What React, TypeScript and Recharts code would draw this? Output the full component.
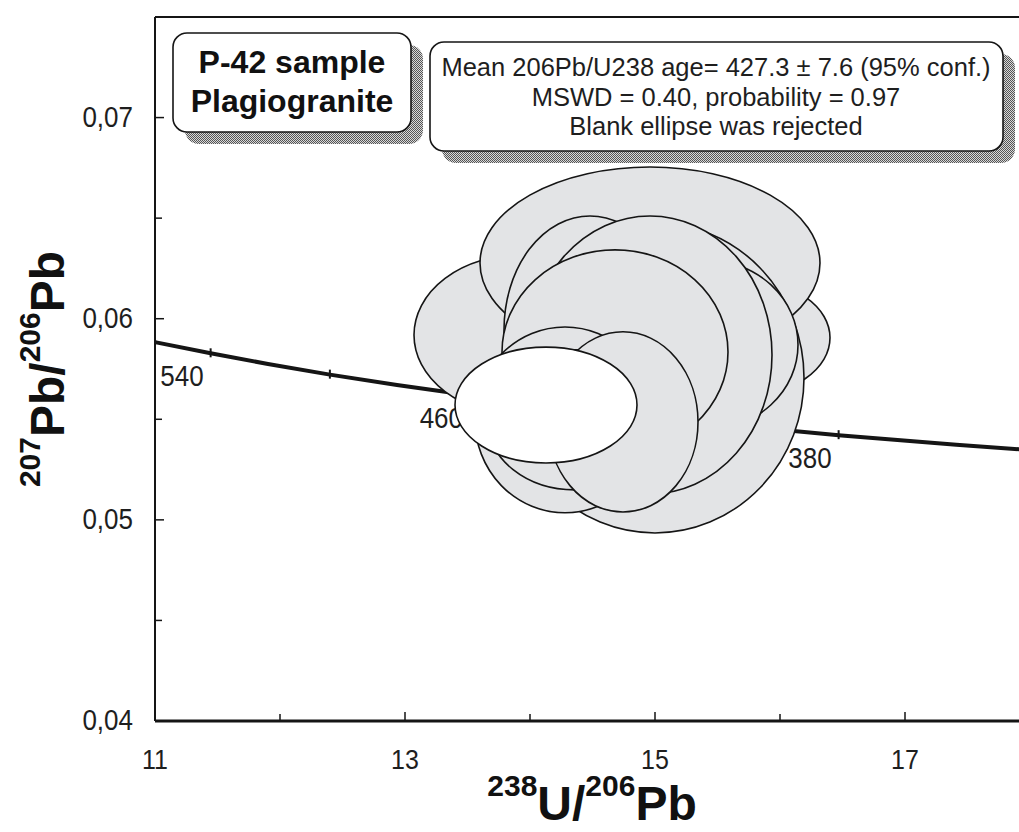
import React from 'react'
import { ScatterChart, Scatter, XAxis, YAxis, ReferenceLine } from 'recharts'

const FONT = '"Liberation Sans", Arial, Helvetica, sans-serif'
const INK = '#151515'

// concordia curve (Tera-Wasserburg), ages in Ma
const concordiaAge = [580, 560, 540, 520, 500, 480, 460, 440, 420, 400, 380, 360, 340]
const concordiaU = [10.622, 11.019, 11.445, 11.904, 12.399, 12.936, 13.52, 14.157, 14.854, 15.621, 16.469, 17.411, 18.465]
const concordiaPb = [0.05936, 0.05881, 0.05828, 0.05775, 0.05722, 0.0567, 0.05619, 0.05569, 0.05519, 0.0547, 0.05421, 0.05373, 0.05326]
const tickAges = [540, 500, 460, 420, 380]
const labelAges = [540, 460, 380]

// error ellipses in drawing order, last one is the rejected (blank) one
const ellU = [13.92, 15.72, 14.96, 15.0, 15.4, 14.48, 14.96, 14.68, 14.28, 14.36, 14.744, 14.128]
const ellPb = [0.05919, 0.05905, 0.06277, 0.05706, 0.0587, 0.05944, 0.0582, 0.05835, 0.05497, 0.05497, 0.05487, 0.05571]
const ellErrU = [0.848, 0.68, 1.36, 1.192, 0.744, 0.688, 0.976, 0.904, 0.72, 0.704, 0.6, 0.728]
const ellErrPb = [0.00398, 0.00288, 0.00477, 0.00771, 0.00423, 0.00567, 0.00691, 0.00507, 0.00462, 0.00348, 0.00448, 0.00288]
const rejected = [false, false, false, false, false, false, false, false, false, false, false, true]

const xTicks = [11, 12, 13, 14, 15, 16, 17]
const yTicks = [0.04, 0.045, 0.05, 0.055, 0.06, 0.065, 0.07]

const concordiaData = concordiaAge.map((age, i) => ({ x: concordiaU[i], y: concordiaPb[i], age }))

const ellipses = ellU.map((u, i) => [
  { x: u, y: ellPb[i] },
  { x: u + ellErrU[i], y: ellPb[i] },
  { x: u, y: ellPb[i] + ellErrPb[i] },
])

// the source figure's lettering is slightly taller than plain Arial
const Tall = ({ x, y, anchor, size, children }: any) => (
  <text
    transform={`translate(${x},${y}) scale(1,1.12)`}
    textAnchor={anchor}
    fontSize={size}
    fontFamily={FONT}
    fill="#1e1e1e"
  >
    {children}
  </text>
)

const XTick = (props: any) => {
  const { x, y, payload } = props
  const v = payload.value
  const major = v % 2 === 1
  return (
    <g>
      <line x1={x} x2={x} y1={y} y2={y - (major ? 9 : 7)} stroke={INK} strokeWidth={1.5} />
      {major && (
        <Tall x={x} y={y + 48} anchor="middle" size={25}>
          {v}
        </Tall>
      )}
    </g>
  )
}

const YTick = (props: any) => {
  const { x, y, payload } = props
  const v = payload.value
  const major = Math.round(v * 1000) % 10 === 0
  return (
    <g>
      <line x1={x} x2={x + (major ? 9 : 7)} y1={y} y2={y} stroke={INK} strokeWidth={1.5} />
      {major && (
        <Tall x={x - 22} y={y + 9} anchor="end" size={26}>
          {v.toFixed(2).replace('.', ',')}
        </Tall>
      )}
    </g>
  )
}

const ConcordiaMark = (props: any) => {
  const { cx, cy, payload } = props
  if (!tickAges.includes(payload.age)) return <g />
  return (
    <g>
      <line x1={cx} x2={cx} y1={cy - 5} y2={cy + 4} stroke={INK} strokeWidth={2} />
      {labelAges.includes(payload.age) && (
        <Tall x={cx - 7} y={cy + 33} anchor="end" size={26}>
          {payload.age}
        </Tall>
      )}
    </g>
  )
}

const drawEllipse = (fill: string) => (p: any) => {
  const [c, r, t] = p.points
  return (
    <ellipse
      cx={c.x}
      cy={c.y}
      rx={Math.abs(r.x - c.x)}
      ry={Math.abs(c.y - t.y)}
      fill={fill}
      stroke={INK}
      strokeWidth={1.6}
    />
  )
}

const NoPoint = () => <g />

const boxText = { textAnchor: 'middle' as const, fontSize: 25.5, fontFamily: FONT, fill: '#1e1e1e' }

function Overlay() {
  return (
    <svg width={1019} height={832} style={{ position: 'absolute', left: 0, top: 0, pointerEvents: 'none' }}>
      <defs>
        <pattern id="dither" width="2" height="2" patternUnits="userSpaceOnUse">
          <rect width="2" height="2" fill="#d8d8d8" />
          <rect width="1" height="1" fill="#555" />
          <rect x="1" y="1" width="1" height="1" fill="#555" />
        </pattern>
      </defs>

      {/* sample box */}
      <rect x={185} y={45} width={238} height={99} rx={14} fill="url(#dither)" />
      <rect x={173} y={33} width={238} height={99} rx={14} fill="#fff" stroke={INK} strokeWidth={1.6} />
      <text x={292} y={73} textAnchor="middle" fontSize={32} fontWeight="bold" fontFamily={FONT} fill="#111">
        P-42 sample
      </text>
      <text x={292} y={112} textAnchor="middle" fontSize={32} fontWeight="bold" fontFamily={FONT} fill="#111">
        Plagiogranite
      </text>

      {/* result box */}
      <rect x={442} y={54} width={573} height={109} rx={14} fill="url(#dither)" />
      <rect x={430} y={42} width={573} height={109} rx={14} fill="#fff" stroke={INK} strokeWidth={1.6} />
      <text x={716} y={76} {...boxText}>
        Mean 206Pb/U238 age= 427.3 ± 7.6 (95% conf.)
      </text>
      <text x={716} y={106} {...boxText}>
        MSWD = 0.40, probability = 0.97
      </text>
      <text x={716} y={135} {...boxText}>
        Blank ellipse was rejected
      </text>

      {/* axis titles */}
      <text x={592} y={820} textAnchor="middle" fontSize={48} fontWeight="bold" fontFamily={FONT} fill="#111">
        <tspan fontSize={30} dy={-24}>238</tspan>
        <tspan dy={24}>U/</tspan>
        <tspan fontSize={30} dy={-24}>206</tspan>
        <tspan dy={24}>Pb</tspan>
      </text>
      <text
        transform="translate(64,369) rotate(-90)"
        textAnchor="middle"
        fontSize={48}
        fontWeight="bold"
        fontFamily={FONT}
        fill="#111"
      >
        <tspan fontSize={30} dy={-24}>207</tspan>
        <tspan dy={24}>Pb/</tspan>
        <tspan fontSize={30} dy={-24}>206</tspan>
        <tspan dy={24}>Pb</tspan>
      </text>
    </svg>
  )
}

export default function App() {
  return (
    <div
      style={{
        position: 'fixed',
        left: 0,
        top: 0,
        width: 1019,
        height: 832,
        overflow: 'hidden',
        background: '#fff',
        fontFamily: FONT,
      }}
    >
      <ScatterChart width={1040} height={832} margin={{ top: 17, right: 10, bottom: 0, left: 0 }}>
        <XAxis
          type="number"
          dataKey="x"
          domain={[11, 18]}
          allowDataOverflow
          ticks={xTicks}
          interval={0}
          tickLine={false}
          tickSize={0}
          tickMargin={0}
          tick={<XTick />}
          axisLine={{ stroke: INK, strokeWidth: 3 }}
          height={111}
        />
        <YAxis
          type="number"
          dataKey="y"
          domain={[0.04, 0.075]}
          allowDataOverflow
          ticks={yTicks}
          interval={0}
          tickLine={false}
          tickSize={0}
          tickMargin={0}
          tick={<YTick />}
          axisLine={{ stroke: INK, strokeWidth: 2 }}
          width={155}
        />
        <ReferenceLine y={0.075} stroke={INK} strokeWidth={2} />
        <Scatter
          data={concordiaData}
          fill={INK}
          line={{ stroke: INK, strokeWidth: 4 }}
          shape={<ConcordiaMark />}
          isAnimationActive={false}
        />
        {ellipses.map((d, i) => (
          <Scatter
            key={i}
            data={d}
            fill={rejected[i] ? '#ffffff' : '#e3e4e6'}
            line={drawEllipse(rejected[i] ? '#ffffff' : '#e3e4e6')}
            shape={<NoPoint />}
            isAnimationActive={false}
          />
        ))}
      </ScatterChart>
      <Overlay />
    </div>
  )
}
